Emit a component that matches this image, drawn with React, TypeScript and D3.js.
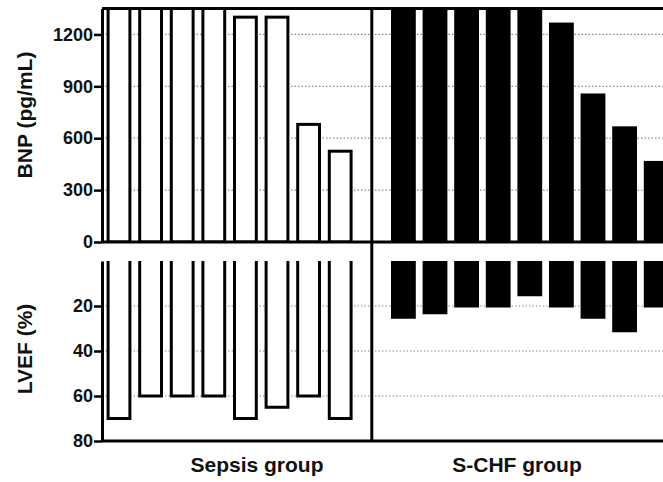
import { useEffect, useRef } from "react";
import * as d3 from "d3";

// BNP (pg/mL) per patient; bars above the axis top are cut off in the original
const sepsisBNP = [1400, 1400, 1400, 1400, 1300, 1300, 680, 525];
const schfBNP = [1400, 1400, 1400, 1400, 1400, 1260, 850, 660, 460];

// LVEF (%) per patient
const sepsisLVEF = [70, 60, 60, 60, 70, 65, 60, 70];
const schfLVEF = [25, 23, 20, 20, 15, 20, 25, 31, 20];

const bnpTicks = [0, 300, 600, 900, 1200];
const lvefTicks = [20, 40, 60, 80];
const groupLabels = ["Sepsis group", "S-CHF group"];

const W = 663;
const H = 482;
const FONT = "'Liberation Sans', Arial, sans-serif";

export default function App() {
  const svgRef = useRef<SVGSVGElement>(null);

  useEffect(() => {
    if (!svgRef.current) return;
    const svg = d3.select(svgRef.current);
    svg.selectAll("*").remove();

    // one slot per patient, slot 8 is the gap between the two groups
    const slots = d3.range(18);
    const x = d3
      .scaleBand<number>()
      .domain(slots)
      .range([103.2, 103.2 + 18 * 31.6])
      .paddingInner(0.31)
      .paddingOuter(0.155);
    const bw = x.bandwidth();
    const sepSlot = (i: number) => i;
    const chfSlot = (i: number) => i + 9;

    const axisX = 102;
    const sepX = (x(8) ?? 0) + bw / 2;

    const yTop = d3.scaleLinear().domain([0, 1350]).range([242, 8.5]);
    const yBot = d3.scaleLinear().domain([0, 80]).range([261, 441]);

    svg
      .append("defs")
      .append("clipPath")
      .attr("id", "topclip")
      .append("rect")
      .attr("x", 0)
      .attr("y", yTop(1350))
      .attr("width", W)
      .attr("height", yTop(0) - yTop(1350));

    // grid
    const grid = svg.append("g").attr("stroke", "#8a8a8a").attr("stroke-width", 1.2).attr("stroke-dasharray", "1.5,2");
    bnpTicks.filter((t) => t > 0).forEach((t) => {
      grid.append("line").attr("x1", axisX).attr("x2", W).attr("y1", yTop(t)).attr("y2", yTop(t));
    });
    lvefTicks.filter((t) => t < 80).forEach((t) => {
      grid.append("line").attr("x1", axisX).attr("x2", W).attr("y1", yBot(t)).attr("y2", yBot(t));
    });

    // BNP bars
    const top = svg.append("g").attr("clip-path", "url(#topclip)");
    top
      .selectAll("rect.sep")
      .data(sepsisBNP)
      .join("rect")
      .attr("x", (_, i) => x(sepSlot(i)) ?? 0)
      .attr("width", bw)
      .attr("y", (d) => yTop(d))
      .attr("height", (d) => yTop(0) - yTop(d))
      .attr("fill", "#fff")
      .attr("stroke", "#000")
      .attr("stroke-width", 3);
    top
      .selectAll("rect.chf")
      .data(schfBNP)
      .join("rect")
      .attr("x", (_, i) => x(chfSlot(i)) ?? 0)
      .attr("width", bw)
      .attr("y", (d) => yTop(d))
      .attr("height", (d) => yTop(0) - yTop(d))
      .attr("fill", "#000")
      .attr("stroke", "#000")
      .attr("stroke-width", 3);

    // LVEF bars, hanging down from 0, open at the top
    const openBar = (x0: number, v: number) =>
      `M${x0},${yBot(0)}V${yBot(v)}H${x0 + bw}V${yBot(0)}`;
    const bot = svg.append("g");
    bot
      .selectAll("path.sep")
      .data(sepsisLVEF)
      .join("path")
      .attr("d", (d, i) => openBar(x(sepSlot(i)) ?? 0, d))
      .attr("fill", "#fff")
      .attr("stroke", "#000")
      .attr("stroke-width", 3);
    bot
      .selectAll("path.chf")
      .data(schfLVEF)
      .join("path")
      .attr("d", (d, i) => openBar(x(chfSlot(i)) ?? 0, d))
      .attr("fill", "#000")
      .attr("stroke", "#000")
      .attr("stroke-width", 3);

    // frame lines
    const frame = svg.append("g").attr("stroke", "#000").attr("stroke-width", 3).attr("fill", "none");
    frame.append("line").attr("x1", axisX).attr("x2", W).attr("y1", yTop(1350)).attr("y2", yTop(1350));
    frame.append("line").attr("x1", axisX).attr("x2", W).attr("y1", yTop(0)).attr("y2", yTop(0));
    frame.append("line").attr("x1", axisX).attr("x2", W).attr("y1", yBot(80)).attr("y2", yBot(80));
    frame.append("line").attr("x1", sepX).attr("x2", sepX).attr("y1", yTop(1350) - 1.5).attr("y2", yBot(80));

    // y axes
    const styleAxis = (g: d3.Selection<SVGGElement, unknown, null, undefined>) => {
      g.select(".domain").attr("stroke-width", 3);
      g.selectAll(".tick line").attr("stroke-width", 2.5);
      g.selectAll(".tick text")
        .attr("font-family", FONT)
        .attr("font-weight", "bold")
        .attr("font-size", 18)
        .attr("fill", "#111");
    };
    svg
      .append("g")
      .attr("transform", `translate(${axisX},0)`)
      .call(
        d3
          .axisLeft(yTop)
          .tickValues(bnpTicks)
          .tickFormat(d3.format("d"))
          .tickSize(8)
          .tickSizeOuter(0)
          .tickPadding(1)
      )
      .call(styleAxis);
    svg
      .append("g")
      .attr("transform", `translate(${axisX},0)`)
      .call(
        d3
          .axisLeft(yBot)
          .tickValues(lvefTicks)
          .tickFormat(d3.format("d"))
          .tickSize(8)
          .tickSizeOuter(0)
          .tickPadding(1)
      )
      .call(styleAxis);

    // axis titles
    const title = (tx: number, ty: number, text: string, rot: boolean) =>
      svg
        .append("text")
        .attr("transform", `translate(${tx},${ty})${rot ? " rotate(-90)" : ""}`)
        .attr("text-anchor", "middle")
        .attr("font-family", FONT)
        .attr("font-weight", "bold")
        .attr("font-size", 21)
        .attr("fill", "#111")
        .text(text);
    title(32, 115, "BNP (pg/mL)", true);
    title(32, 349, "LVEF (%)", true);
    title(257, 472, groupLabels[0], false);
    title(517, 472, groupLabels[1], false);
  }, []);

  return (
    <svg
      ref={svgRef}
      width={W}
      height={H}
      style={{ position: "absolute", left: 0, top: 0, background: "#fff" }}
    />
  );
}
